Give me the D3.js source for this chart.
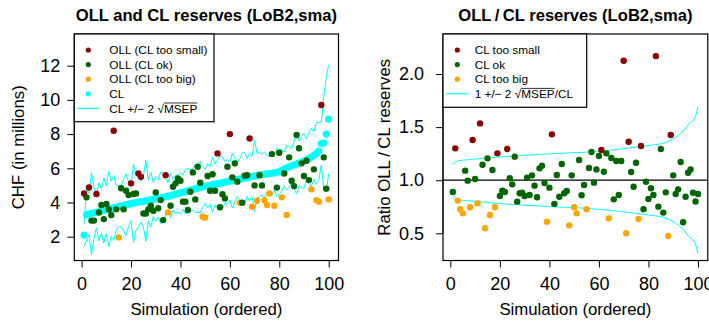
<!DOCTYPE html>
<html>
<head>
<meta charset="utf-8">
<script src="https://cdn.jsdelivr.net/npm/d3@7"></script>
<style>
body { margin: 0; background: #fff; }
svg text { font-family: "Liberation Sans", Arial, Helvetica, sans-serif; }
</style>
</head>
<body>
<svg id="chart" width="709" height="324"></svg>
<script>
// ---- data ----
// left panel, simulations ordered by CL reserve
const clReserve = [
  2.10, 3.28, 3.32, 3.36, 3.40, 3.42, 3.46, 3.50, 3.54, 3.58,
  3.62, 3.65, 3.68, 3.72, 3.76, 3.80, 3.84, 3.87, 3.90, 3.93,
  3.96, 3.99, 4.02, 4.04, 4.07, 4.10, 4.13, 4.16, 4.18, 4.21,
  4.24, 4.27, 4.30, 4.33, 4.36, 4.40, 4.44, 4.48, 4.52, 4.56,
  4.60, 4.64, 4.68, 4.72, 4.76, 4.80, 4.84, 4.88, 4.92, 4.95,
  4.98, 5.01, 5.04, 5.07, 5.10, 5.13, 5.16, 5.19, 5.22, 5.25,
  5.28, 5.31, 5.34, 5.37, 5.40, 5.43, 5.46, 5.49, 5.52, 5.55,
  5.58, 5.61, 5.63, 5.65, 5.67, 5.69, 5.71, 5.73, 5.76, 5.80,
  5.88, 5.96, 6.03, 6.09, 6.15, 6.20, 6.25, 6.30, 6.36, 6.42,
  6.50, 6.58, 6.66, 6.75, 6.86, 7.00, 7.45, 7.48, 8.00, 8.87
];
// 2 * sqrt(MSEP)
const twoSqrtMsep = [
  0.65, 1.5, 1.2, 2.4, 1.5, 0.9, 1.7, 1.3, 1.9, 1.4,
  2.2, 1.6, 1.9, 1.3, 1.2, 1.2, 1.5, 1.8, 1.3, 1.0,
  2.3, 1.6, 1.5, 1.2, 1.5, 2.35, 1.2, 1.6, 1.0, 1.3,
  1.1, 1.5, 1.4, 1.1, 0.8, 1.3, 0.9, 1.1, 1.1, 1.2,
  1.0, 1.3, 1.3, 1.2, 1.2, 1.4, 1.4, 1.5, 1.2, 1.0,
  1.3, 1.1, 1.6, 1.2, 1.4, 1.6, 1.5, 1.2, 1.3, 1.1,
  1.6, 1.3, 1.0, 1.2, 1.5, 1.5, 1.1, 1.4, 1.2, 2.1,
  1.3, 1.3, 1.2, 1.3, 1.1, 1.0, 1.3, 1.0, 1.4, 1.3,
  1.2, 1.0, 1.3, 1.2, 1.0, 1.4, 1.75, 1.3, 1.5, 1.6,
  1.2, 1.5, 1.7, 1.4, 1.8, 1.7, 1.25, 2.7, 3.3, 3.19
];
const ollReserve = [
  4.53, 4.30, 4.88, 2.94, 2.94, 4.50, 3.42, 3.85, 3.03, 3.91,
  3.60, 3.27, 8.20, 3.60, 1.96, 4.83, 3.60, 4.69, 4.44, 5.12,
  4.50, 4.53, 5.70, 5.50, 3.36, 3.36, 3.60, 3.81, 3.52, 4.59,
  3.66, 4.14, 2.97, 5.60, 3.42, 3.81, 4.92, 5.12, 5.41, 5.27,
  4.05, 4.05, 3.56, 4.63, 5.76, 4.18, 6.09, 5.16, 3.17, 3.11,
  5.55, 4.69, 5.65, 4.69, 6.87, 3.72, 4.48, 4.24, 6.09, 8.00,
  5.47, 6.29, 5.22, 3.99, 3.99, 5.57, 5.60, 7.75, 3.75, 5.00,
  4.10, 5.60, 5.00, 4.14, 3.85, 4.53, 6.83, 3.81, 4.87, 6.91,
  4.30, 5.70, 3.27, 6.64, 5.27, 4.96, 7.95, 7.17, 6.29, 5.55,
  6.44, 5.31, 4.77, 5.94, 4.14, 4.05, 9.70, 6.64, 4.81, 4.18
];
// s = CL too small, o = CL ok, b = CL too big
const ollClass = [
  "s","o","s","o","o","s","o","o","o","o",
  "o","o","s","o","b","o","o","o","o","s",
  "o","o","s","s","o","o","o","o","o","o",
  "o","o","o","s","b","o","o","o","o","o",
  "o","o","o","o","o","o","o","o","b","b",
  "o","o","o","o","s","o","o","o","o","s",
  "o","o","o","b","o","o","o","s","b","o",
  "b","o","o","b","b","b","o","b","o","o",
  "b","o","b","o","o","o","o","o","o","o",
  "o","o","b","o","b","b","s","o","o","b"
];

// right panel, simulations ordered by relative MSEP
const ratioOllCl = [
  0.889, 1.300, 0.808, 0.726, 0.688, 1.090, 0.996, 0.745, 1.379, 1.011,
  0.782, 1.535, 1.146, 0.547, 1.206, 0.673, 1.096, 0.745, 1.253, 0.851,
  0.902, 0.889, 1.294, 1.018, 0.961, 1.222, 0.798, 0.877, 0.883, 0.851,
  1.024, 0.861, 1.046, 0.949, 0.839, 1.112, 1.137, 0.974, 0.610, 0.930,
  1.432, 0.776, 1.049, 0.845, 1.153, 0.877, 0.898, 0.575, 1.046, 0.745,
  0.688, 1.190, 0.858, 0.955, 0.726, 1.115, 1.266, 0.977, 1.102, 1.228,
  1.284, 1.080, 1.253, 0.641, 1.209, 0.820, 1.181, 0.861, 1.181, 2.125,
  0.500, 1.363, 1.077, 0.939, 1.165, 0.635, 1.322, 0.726, 0.986, 0.823,
  0.924, 0.861, 2.169, 0.751, 1.294, 0.695, 0.886, 0.475, 1.426, 1.046,
  0.870, 0.914, 1.171, 0.604, 0.845, 1.071, 1.102, 0.883, 0.800, 0.870
];
const ratioClass = [
  "o","s","b","b","b","o","o","b","s","o",
  "b","s","o","b","o","b","o","b","s","o",
  "o","o","s","o","o","o","o","o","o","o",
  "o","o","o","o","o","o","o","o","b","o",
  "s","o","o","o","o","o","o","b","o","b",
  "b","o","o","o","b","o","o","o","o","o",
  "s","o","o","b","o","o","o","o","o","s",
  "b","s","o","o","o","b","s","o","o","o",
  "o","o","s","o","o","o","o","b","s","o",
  "o","o","o","o","o","o","o","o","o","o"
];
// 2 * sqrt(MSEP) / CL
const relTwoSqrtMsep = [
  0.150, 0.170, 0.182, 0.186, 0.189, 0.191, 0.193, 0.195, 0.197, 0.199,
  0.201, 0.203, 0.205, 0.207, 0.209, 0.211, 0.213, 0.215, 0.217, 0.219,
  0.221, 0.223, 0.224, 0.226, 0.227, 0.229, 0.230, 0.232, 0.233, 0.235,
  0.236, 0.238, 0.239, 0.240, 0.242, 0.243, 0.244, 0.246, 0.247, 0.248,
  0.250, 0.251, 0.252, 0.253, 0.254, 0.255, 0.256, 0.257, 0.258, 0.259,
  0.260, 0.261, 0.262, 0.263, 0.265, 0.266, 0.268, 0.270, 0.272, 0.274,
  0.276, 0.278, 0.280, 0.282, 0.284, 0.287, 0.289, 0.292, 0.294, 0.297,
  0.300, 0.303, 0.306, 0.309, 0.312, 0.315, 0.318, 0.321, 0.324, 0.327,
  0.330, 0.333, 0.336, 0.340, 0.343, 0.347, 0.355, 0.365, 0.377, 0.390,
  0.405, 0.420, 0.440, 0.460, 0.490, 0.520, 0.545, 0.560, 0.600, 0.690
];

const xTicks = [0, 20, 40, 60, 80, 100];
const leftYTicks = [2, 4, 6, 8, 10, 12];
const rightYTicks = [0.5, 1.0, 1.5, 2.0];

// ---- drawing ----
const svg = d3.select("#chart");
const classColor = { s: "#8B0000", o: "#006400", b: "#FFA500" };
const cyan = "#00FFFF";
const plotTop = 34, plotBottom = 260.5;

function makeFrame(left, right, yDomain, yFmt, title, yLabel, yLabelX) {
  const x = d3.scaleLinear().domain([-2.96, 103.96]).range([left, right]);
  const y = d3.scaleLinear().domain(yDomain).range([plotBottom, plotTop]);
  const g = svg.append("g");

  // x axis
  const xa = g.append("g")
    .attr("transform", `translate(0,${plotBottom})`)
    .call(d3.axisBottom(x).tickValues(xTicks).tickSize(7).tickFormat(d3.format("d")));
  xa.select(".domain").remove();
  xa.append("line").attr("x1", x(0)).attr("x2", x(100)).attr("stroke", "#000");
  xa.selectAll("text").attr("dy", null).attr("y", 29.5)
    .attr("font-size", 18).attr("font-family", null).attr("fill", "#000");

  // y axis
  const ya = g.append("g")
    .attr("transform", `translate(${left},0)`)
    .call(d3.axisLeft(y).tickValues(yFmt.ticks).tickSize(7).tickPadding(yFmt.pad).tickFormat(yFmt.fmt));
  ya.select(".domain").remove();
  ya.append("line").attr("y1", y(yFmt.ticks[0])).attr("y2", y(yFmt.ticks[yFmt.ticks.length - 1])).attr("stroke", "#000");
  ya.selectAll("text").attr("font-size", 18).attr("font-family", null).attr("fill", "#000");

  // box
  g.append("rect").attr("x", left).attr("y", plotTop)
    .attr("width", right - left).attr("height", plotBottom - plotTop)
    .attr("fill", "none").attr("stroke", "#000").attr("stroke-width", 1.2);

  // title + labels
  svg.append("text").attr("x", (left + right) / 2).attr("y", 21)
    .attr("text-anchor", "middle").attr("font-weight", "bold").attr("font-size", 16.6)
    .text(title);
  svg.append("text").attr("x", (left + right) / 2).attr("y", 315)
    .attr("text-anchor", "middle").attr("font-size", 16.8)
    .text("Simulation (ordered)");
  svg.append("text")
    .attr("transform", `translate(${yLabelX},${(plotTop + plotBottom) / 2}) rotate(-90)`)
    .attr("text-anchor", "middle").attr("font-size", 16.8)
    .text(yLabel);

  const plot = g.append("g");
  return { x, y, g, plot };
}

function richLabel(g, x0, y0, parts) {
  let cx = x0;
  parts.forEach(p => {
    const t = g.append("text").attr("x", cx).attr("y", y0)
      .attr("font-size", 11.8).style("white-space", "pre").text(p.text);
    const len = t.node().getComputedTextLength();
    if (p.over) {
      g.append("line").attr("x1", cx).attr("x2", cx + len)
        .attr("y1", y0 - 9.6).attr("y2", y0 - 9.6)
        .attr("stroke", "#000").attr("stroke-width", 0.8);
    }
    cx += len;
  });
}

function legend(left, w, h, symX, textX, items) {
  const g = svg.append("g");
  g.append("rect").attr("x", left).attr("y", plotTop).attr("width", w).attr("height", h)
    .attr("fill", "#fff").attr("stroke", "#000").attr("stroke-width", 1.2);
  items.forEach((it, i) => {
    const ry = 50 + i * 14.6;
    if (it.line) {
      g.append("line").attr("x1", symX - 11).attr("x2", symX + 11)
        .attr("y1", ry).attr("y2", ry).attr("stroke", it.color).attr("stroke-width", 1.2);
    } else {
      g.append("circle").attr("cx", symX).attr("cy", ry).attr("r", 2.6).attr("fill", it.color);
    }
    richLabel(g, textX, ry + 4.2, it.parts);
  });
}

// left panel
const L = makeFrame(74.3, 338.5, [0.608, 13.854],
  { ticks: leftYTicks, fmt: d3.format("d"), pad: 7 },
  "OLL and CL reserves (LoB2,sma)", "CHF (in millions)", 24);

const leftRows = clReserve.map((cl, i) => ({
  sim: i + 1, cl, w: twoSqrtMsep[i], oll: ollReserve[i], cls: ollClass[i]
}));

const upperLine = d3.line().x(d => L.x(d.sim)).y(d => L.y(d.cl + d.w));
const lowerLine = d3.line().x(d => L.x(d.sim)).y(d => L.y(d.cl - d.w));

L.plot.selectAll("circle.cl").data(leftRows).join("circle")
  .attr("class", "cl")
  .attr("cx", d => L.x(d.sim)).attr("cy", d => L.y(d.cl))
  .attr("r", 3.6).attr("fill", cyan);
L.plot.append("path").datum(leftRows).attr("d", upperLine)
  .attr("fill", "none").attr("stroke", cyan).attr("stroke-width", 1);
L.plot.append("path").datum(leftRows).attr("d", lowerLine)
  .attr("fill", "none").attr("stroke", cyan).attr("stroke-width", 1);
L.plot.selectAll("circle.oll").data(leftRows).join("circle")
  .attr("class", "oll")
  .attr("cx", d => L.x(d.sim)).attr("cy", d => L.y(d.oll))
  .attr("r", 3.2).attr("fill", d => classColor[d.cls]);

legend(74.3, 139.7, 87.7, 88.3, 109.3, [
  { color: classColor.s, parts: [{ text: "OLL (CL too small)" }] },
  { color: classColor.o, parts: [{ text: "OLL (CL ok)" }] },
  { color: classColor.b, parts: [{ text: "OLL (CL too big)" }] },
  { color: cyan, parts: [{ text: "CL" }] },
  { color: cyan, line: true, parts: [{ text: "CL +/\u2212 2 " }, { text: "\u221A" }, { text: "MSEP", over: true }] }
]);

// right panel
const R = makeFrame(443, 707.8, [0.244, 2.377],
  { ticks: rightYTicks, fmt: d3.format(".1f"), pad: 12 },
  "OLL\u2009/\u2009CL reserves (LoB2,sma)", "Ratio OLL\u2009/\u2009CL reserves", 390);

const rightRows = ratioOllCl.map((r, i) => ({
  sim: i + 1, r, h: relTwoSqrtMsep[i], cls: ratioClass[i]
}));

R.plot.append("line").attr("x1", 443).attr("x2", 707.8)
  .attr("y1", R.y(1)).attr("y2", R.y(1)).attr("stroke", "#000").attr("stroke-width", 1.3);
R.plot.append("path").datum(rightRows)
  .attr("d", d3.line().x(d => R.x(d.sim)).y(d => R.y(1 + d.h)))
  .attr("fill", "none").attr("stroke", cyan).attr("stroke-width", 1);
R.plot.append("path").datum(rightRows)
  .attr("d", d3.line().x(d => R.x(d.sim)).y(d => R.y(1 - d.h)))
  .attr("fill", "none").attr("stroke", cyan).attr("stroke-width", 1);
R.plot.selectAll("circle.ratio").data(rightRows).join("circle")
  .attr("class", "ratio")
  .attr("cx", d => R.x(d.sim)).attr("cy", d => R.y(d.r))
  .attr("r", 3.2).attr("fill", d => classColor[d.cls]);

legend(443, 143.7, 73.3, 457.3, 474.7, [
  { color: classColor.s, parts: [{ text: "CL too small" }] },
  { color: classColor.o, parts: [{ text: "CL ok" }] },
  { color: classColor.b, parts: [{ text: "CL too big" }] },
  { color: cyan, line: true, parts: [{ text: "1 +/\u2212 2 " }, { text: "\u221A" }, { text: "MSEP", over: true }, { text: "/CL" }] }
]);
</script>
</body>
</html>
